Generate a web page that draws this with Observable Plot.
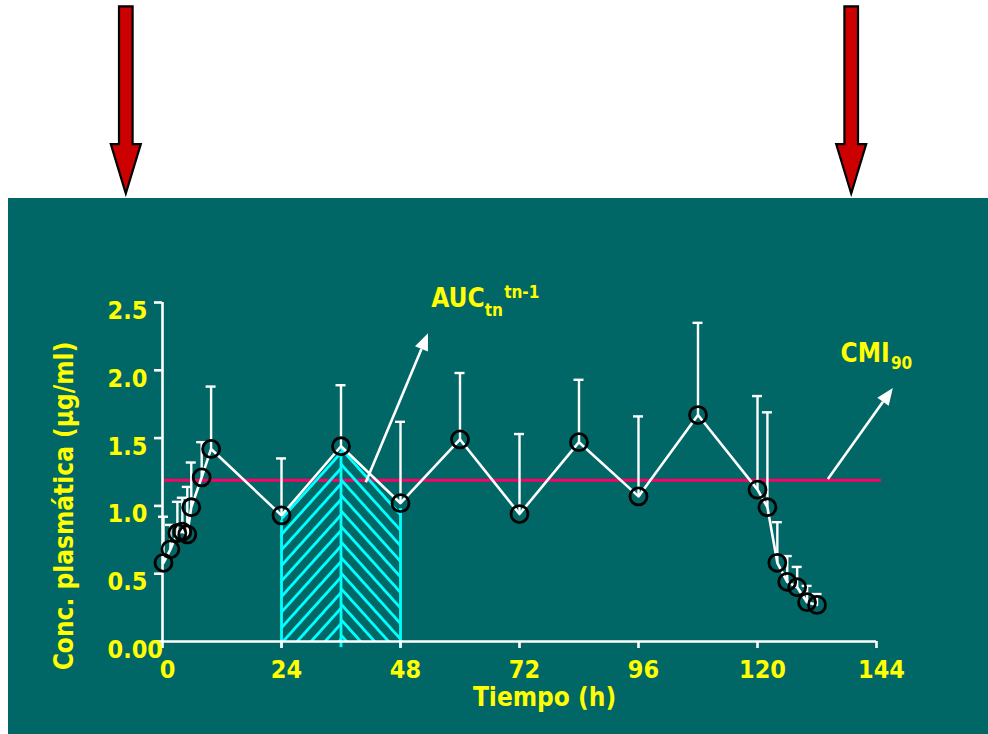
<!DOCTYPE html>
<html>
<head>
<meta charset="utf-8">
<script src="https://cdn.jsdelivr.net/npm/d3@7"></script>
<script src="https://cdn.jsdelivr.net/npm/@observablehq/plot@0.6"></script>
<style>
  html, body { margin: 0; padding: 0; background: #ffffff; }
  #wrap { position: relative; width: 988px; height: 734px; overflow: hidden; }
  #panel { position: absolute; left: 8px; top: 198px; width: 980px; height: 536px; background: #006666; }
  #chart { position: absolute; left: 0; top: 0; }
</style>
</head>
<body>
<div id="wrap"><div id="panel"></div><div id="chart"></div></div>
<svg width="0" height="0" style="position:absolute">
  <defs>
    <pattern id="hatchUp" patternUnits="userSpaceOnUse" width="10.4" height="10.4" patternTransform="rotate(42)">
      <line x1="5.2" y1="-1" x2="5.2" y2="12" stroke="#00ffff" stroke-width="2.8"/>
    </pattern>
    <pattern id="hatchDown" patternUnits="userSpaceOnUse" width="10.4" height="10.4" patternTransform="rotate(-42)">
      <line x1="5.2" y1="-1" x2="5.2" y2="12" stroke="#00ffff" stroke-width="2.8"/>
    </pattern>
  </defs>
</svg>
<script>
// ---- data ----
const times = [0.2, 1.6, 3.0, 4.0, 5.0, 5.8, 7.9, 9.8, 24, 36, 48, 60, 72, 84, 96, 108, 120, 122, 124, 126, 128, 130, 132];
const meanConc = [0.58, 0.68, 0.80, 0.81, 0.79, 0.99, 1.21, 1.42, 0.93, 1.44, 1.02, 1.49, 0.94, 1.47, 1.07, 1.67, 1.12, 0.99, 0.58, 0.44, 0.40, 0.29, 0.27];
const upperConc = [0.92, 0.86, 1.03, 1.06, 1.14, 1.32, 1.47, 1.88, 1.35, 1.89, 1.62, 1.98, 1.53, 1.93, 1.66, 2.35, 1.81, 1.69, 0.88, 0.63, 0.55, 0.41, 0.35];

const xTicks = [0, 24, 48, 72, 96, 120, 144];
const yTicks = [0, 0.5, 1, 1.5, 2, 2.5];
const yTickLabels = ["0.00", "0.5", "1.0", "1.5", "2.0", "2.5"];

const micValue = 1.19;          // CMI90 line
const micSpan = [0, 145];
const aucBounds = [24, 36, 48]; // hatched AUC interval

// annotation labels (data units)
const mainLabels = ["AUC", "CMI"];
const mainLabelX = [54.2, 136.75];
const mainLabelY = [2.47, 2.06];
const scriptLabels = ["tn", "tn-1", "90"];
const scriptLabelX = [65.0, 68.9, 146.9];
const scriptLabelY = [2.404, 2.53, 2.011];

// annotation arrows (from -> to, data units)
const arrowFromT = [41.1, 134.3];
const arrowFromV = [1.17, 1.195];
const arrowToT = [53.65, 147.4];
const arrowToV = [2.27, 1.866];

// dosing arrows above the panel (data units)
const doseTimes = [-7.3, 139];
const doseTop = 4.68, doseHeadBase = 3.665, doseTip = 3.30;

const xTitle = "Tiempo (h)";
const yTitle = "Conc. plasmática (µg/ml)";

// ---- build ----
const series = times.map((t, i) => ({t, mean: meanConc[i], upper: upperConc[i]}));
const meanAt = t => series.find(d => d.t === t).mean;
const aucLeft = series.filter(d => d.t >= aucBounds[0] && d.t <= aucBounds[1]);
const aucRight = series.filter(d => d.t >= aucBounds[1] && d.t <= aucBounds[2]);
const mains = mainLabels.map((s, i) => ({s, t: mainLabelX[i], v: mainLabelY[i]}));
const scripts = scriptLabels.map((s, i) => ({s, t: scriptLabelX[i], v: scriptLabelY[i]}));
const arrows = arrowFromT.map((t, i) => ({t1: t, v1: arrowFromV[i], t2: arrowToT[i], v2: arrowToV[i]}));

const WHITE = "#ffffff", YELLOW = "#ffff00", CYAN = "#00ffff", PINK = "#ff0066";
const FONT = "'DejaVu Sans Condensed', 'DejaVu Sans', sans-serif";

function getScale(scales, k) { return scales[k] || (scales.scales && scales.scales[k]); }

function annotationArrows(index, scales) {
  const sx = getScale(scales, "x"), sy = getScale(scales, "y");
  const g = d3.create("svg:g");
  for (const a of arrows) {
    const x1 = sx(a.t1), y1 = sy(a.v1), x2 = sx(a.t2), y2 = sy(a.v2);
    const ang = Math.atan2(y2 - y1, x2 - x1);
    const L = 17, W = 7;
    const bx = x2 - L * Math.cos(ang), by = y2 - L * Math.sin(ang);
    const px = -Math.sin(ang) * W, py = Math.cos(ang) * W;
    g.append("line").attr("x1", x1).attr("y1", y1).attr("x2", bx).attr("y2", by)
      .attr("stroke", WHITE).attr("stroke-width", 2.6);
    g.append("path").attr("d", `M${x2},${y2}L${bx + px},${by + py}L${bx - px},${by - py}Z`)
      .attr("fill", WHITE);
  }
  return g.node();
}

function doseArrows(index, scales) {
  const sx = getScale(scales, "x"), sy = getScale(scales, "y");
  const g = d3.create("svg:g");
  for (const t of doseTimes) {
    const cx = sx(t), yTop = sy(doseTop), yBase = sy(doseHeadBase), yTip = sy(doseTip);
    const s = 6.8, h = 15;
    g.append("path")
      .attr("d", `M${cx - s},${yTop}H${cx + s}V${yBase}H${cx + h}L${cx},${yTip}L${cx - h},${yBase}H${cx - s}Z`)
      .attr("fill", "#cc0000").attr("stroke", "#000").attr("stroke-width", 2.2)
      .attr("stroke-linejoin", "miter");
  }
  return g.node();
}

const chart = Plot.plot({
  width: 988,
  height: 734,
  marginTop: 302,
  marginBottom: 93,
  marginLeft: 162,
  marginRight: 112,
  x: {domain: [0, 144], axis: null},
  y: {domain: [0, 2.5], axis: null},
  style: {background: "transparent", color: WHITE, fontFamily: FONT, fontWeight: "bold", overflow: "visible"},
  marks: [
    // CMI90 line
    Plot.ruleY([micValue], {y: d => d, x1: micSpan[0], x2: micSpan[1], stroke: PINK, strokeWidth: 3}),
    // hatched AUC
    Plot.areaY(aucLeft, {x: "t", y: "mean", fill: "url(#hatchUp)"}),
    Plot.areaY(aucRight, {x: "t", y: "mean", fill: "url(#hatchDown)"}),
    Plot.ruleX(aucBounds, {x: d => d, y1: -0.045, y2: d => meanAt(d) - 0.04, stroke: CYAN, strokeWidth: 2.8}),
    // axes
    Plot.ruleY([0], {y: d => d, x1: 0, x2: 144, stroke: WHITE, strokeWidth: 2.6}),
    Plot.ruleX([0], {x: d => d, y1: 0, y2: 2.5, stroke: WHITE, strokeWidth: 2.6}),
    Plot.ruleX(xTicks, {x: d => d, y1: 0, y2: 0, insetBottom: -7, stroke: WHITE, strokeWidth: 2.6}),
    Plot.ruleY(yTicks, {y: d => d, x1: 0, x2: 0, insetLeft: -8, stroke: WHITE, strokeWidth: 2.6}),
    Plot.text(xTicks, {x: d => d, frameAnchor: "bottom", text: d => String(d), dx: 5, dy: 36, fill: YELLOW, fontSize: 25, fontWeight: "bold"}),
    Plot.text(yTicks, {y: d => d, frameAnchor: "left", text: (d, i) => yTickLabels[i], textAnchor: "start", dx: -55, dy: 8.5, fill: YELLOW, fontSize: 25, fontWeight: "bold"}),
    Plot.text([xTitle], {frameAnchor: "bottom", text: d => d, textAnchor: "middle", dx: 25, dy: 64, fill: YELLOW, fontSize: 26, fontWeight: "bold"}),
    Plot.text([yTitle], {frameAnchor: "left", text: d => d, textAnchor: "middle", rotate: -90, dx: -98, dy: 34, fill: YELLOW, fontSize: 26, fontWeight: "bold"}),
    // error bars
    Plot.ruleX(series, {x: "t", y1: "mean", y2: "upper", stroke: WHITE, strokeWidth: 2.4}),
    Plot.ruleY(series, {y: "upper", x1: "t", x2: "t", insetLeft: -5, insetRight: -5, stroke: WHITE, strokeWidth: 2.4}),
    // mean line and markers
    Plot.line(series, {x: "t", y: "mean", stroke: WHITE, strokeWidth: 2.6}),
    Plot.dot(series, {x: "t", y: "mean", r: 8.5, stroke: "#000000", strokeWidth: 2.8, fill: "none"}),
    // annotations
    annotationArrows,
    Plot.text(mains, {x: "t", y: "v", text: "s", textAnchor: "start", lineAnchor: "bottom", fill: YELLOW, fontSize: 26, fontWeight: "bold"}),
    Plot.text(scripts, {x: "t", y: "v", text: "s", textAnchor: "start", lineAnchor: "bottom", fill: YELLOW, fontSize: 17, fontWeight: "bold"}),
    doseArrows
  ]
});
document.getElementById("chart").appendChild(chart);
</script>
</body>
</html>
